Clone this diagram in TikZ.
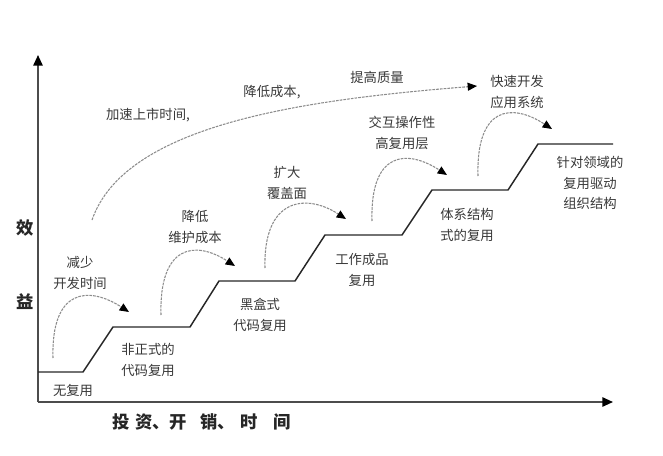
\documentclass[tikz,border=0pt]{standalone}
\usepackage{fontspec}
\setmainfont{Noto Sans CJK SC}
\usetikzlibrary{arrows.meta}

\begin{document}
\begin{tikzpicture}[x=0.75pt,y=-0.75pt,
    lbl/.style={text=black!78,font=\fontsize{10}{15.4}\selectfont,align=center,inner sep=0pt},
    axlbl/.style={text=black!85,font=\fontsize{13}{15}\selectfont\bfseries,inner sep=0pt},
    axis/.style={black!70,line width=1.3pt,-{Triangle[width=7pt,length=8pt,color=black]}},
    stair/.style={black!85,line width=1.1pt},
    hop/.style={black!45,dash pattern=on 2pt off 0.8pt,line width=0.8pt,
      -{Triangle[width=6pt,length=7pt,color=black]}}]
  \useasboundingbox (0,0) rectangle (663,456);
  % axes
  \coordinate (O) at (38,402);
  \coordinate (ytip) at (38,55);
  \coordinate (xtip) at (613,402);
  \draw[axis] (O) -- (ytip);
  \draw[axis] (O) -- (xtip);
  \node[axlbl] (eff1) at (25,228) {效};
  \node[axlbl] (eff2) at (25,302) {益};
  \node[axlbl] (xlbl) at (202,422)
    {投\hspace{4pt}资、开\hspace{10pt}销、\hspace{4pt}时\hspace{12pt}间};
  % reuse levels as a staircase
  \draw[stair] (38,372) -- (83,372) -- (113,327) -- (190,327) -- (219,281)
    -- (295,281) -- (325,235) -- (402,235) -- (432,190) -- (508,190)
    -- (538,144) -- (613,144);
  % level names
  \node[lbl] (lvl0) at (73,390) {无复用};
  \node[lbl] (lvl1) at (148,360) {非正式的\\代码复用};
  \node[lbl] (lvl2) at (260,315) {黑盒式\\代码复用};
  \node[lbl] (lvl3) at (362,270) {工作成品\\复用};
  \node[lbl] (lvl4) at (467,225) {体系结构\\式的复用};
  \node[lbl] (lvl5) at (590,183) {针对领域的\\复用驱动\\组织结构};
  % gains between levels, dashed hops
  \foreach \i/\s/\e in {1/{53,358}/{129,312}, 2/{161,315}/{235,266},
      3/{265,268}/{346,219}, 4/{372,221}/{447,175}, 5/{478,176}/{552,129}} {
    \coordinate (s\i) at (\s);
    \coordinate (e\i) at (\e);
    \draw[hop] (s\i) .. controls +(-2,-70) and +(-40,-26) .. (e\i);
  }
  \node[lbl] (gain1) at (80,273) {减少\\开发时间};
  \node[lbl] (gain2) at (195,227) {降低\\维护成本};
  \node[lbl] (gain3) at (287,183) {扩大\\覆盖面};
  \node[lbl] (gain4) at (402,133) {交互操作性\\高复用层};
  \node[lbl] (gain5) at (517,92) {快速开发\\应用系统};
  % overall trend
  \coordinate (trend0) at (92,220);
  \coordinate (trend1) at (477,86);
  \draw[hop] (trend0) .. controls (125,125) and (300,100) .. (trend1);
  \node[lbl] (t1) at (148,115) {加速上市时间,};
  \node[lbl] (t2) at (272,92) {降低成本,};
  \node[lbl] (t3) at (377,77) {提高质量};
\end{tikzpicture}
\end{document}
